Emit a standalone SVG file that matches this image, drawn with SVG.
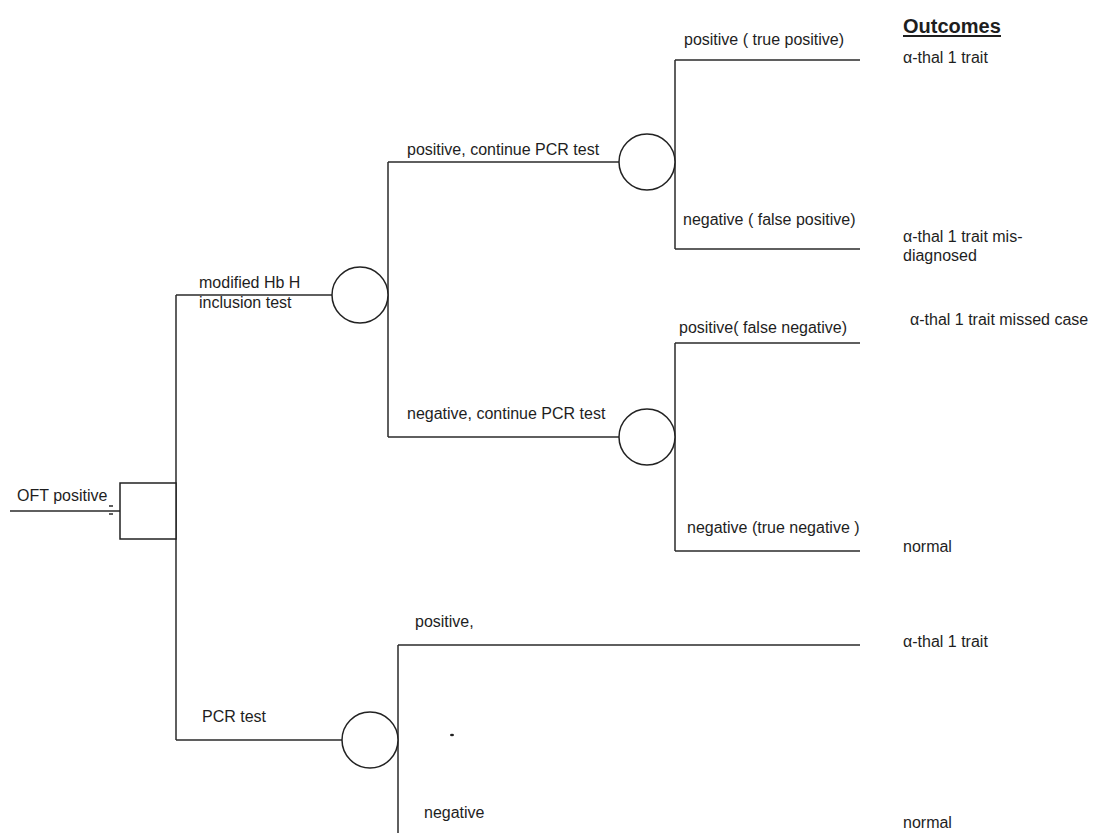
<svg xmlns="http://www.w3.org/2000/svg" width="1094" height="833" viewBox="0 0 1094 833">
<style>
  .ln{fill:none;stroke:#2a2a2a;stroke-width:1.5}
  .nd{fill:#fff;stroke:#222;stroke-width:1.5}
  .t{font-family:"Liberation Sans",Arial,sans-serif;font-size:16px;fill:#1e1e1e}
  .h{font-family:"Liberation Sans",Arial,sans-serif;font-size:20px;font-weight:bold;fill:#1e1e1e}
</style>
<rect width="1094" height="833" fill="#fff"/>
<g id="connectors">
  <path class="ln" d="M10,511 H120"/>
  <path class="ln" d="M109,506 H113 M109,514 H113" stroke-width="1"/>
  <path class="ln" d="M176,295 V740"/>
  <path class="ln" d="M176,295 H332"/>
  <path class="ln" d="M388,162 V437"/>
  <path class="ln" d="M388,162 H619"/>
  <path class="ln" d="M675,60 V249"/>
  <path class="ln" d="M675,60 H860"/>
  <path class="ln" d="M675,249 H860"/>
  <path class="ln" d="M388,437 H619"/>
  <path class="ln" d="M675,343 V551"/>
  <path class="ln" d="M675,343 H860"/>
  <path class="ln" d="M675,551 H860"/>
  <path class="ln" d="M176,740 H342"/>
  <path class="ln" d="M398,645 V833"/>
  <path class="ln" d="M398,645 H860"/>
</g>
<g id="labels">
  <text class="t" x="17" y="501">OFT positive</text>
  <text class="t" x="199" y="288">modified Hb H</text>
  <text class="t" x="199" y="308">inclusion test</text>
  <text class="t" x="202" y="722">PCR test</text>
  <text class="t" x="407" y="155">positive, continue PCR test</text>
  <text class="t" x="407" y="419">negative, continue PCR test</text>
  <text class="t" x="684" y="45">positive ( true positive)</text>
  <text class="t" x="683" y="225">negative ( false positive)</text>
  <text class="t" x="679" y="333">positive( false negative)</text>
  <text class="t" x="687" y="533">negative (true negative )</text>
  <text class="t" x="415" y="627">positive,</text>
  <text class="t" x="424" y="818">negative</text>
</g>
<g id="node-decision">
  <rect class="nd" x="120" y="483" width="56" height="56"/>
</g>
<g id="node-chance-hbh">
  <circle class="nd" cx="360" cy="295" r="28"/>
</g>
<g id="node-chance-pcr-pos">
  <circle class="nd" cx="647" cy="162" r="28"/>
</g>
<g id="node-chance-pcr-neg">
  <circle class="nd" cx="647" cy="437" r="28"/>
</g>
<g id="node-chance-pcr">
  <circle class="nd" cx="370" cy="740" r="28"/>
</g>
<ellipse cx="452" cy="735" rx="2" ry="1.3" fill="#222"/>
<g id="outcomes">
  <text class="h" x="903" y="33">Outcomes</text>
  <line x1="903" y1="36" x2="1001" y2="36" stroke="#1e1e1e" stroke-width="1.8"/>
  <text class="t" x="903" y="63">α-thal 1 trait</text>
  <text class="t" x="903" y="242">α-thal 1 trait mis-</text>
  <text class="t" x="903" y="261">diagnosed</text>
  <text class="t" x="910" y="325">α-thal 1 trait missed case</text>
  <text class="t" x="903" y="552">normal</text>
  <text class="t" x="903" y="647">α-thal 1 trait</text>
  <text class="t" x="903" y="828">normal</text>
</g>
</svg>
